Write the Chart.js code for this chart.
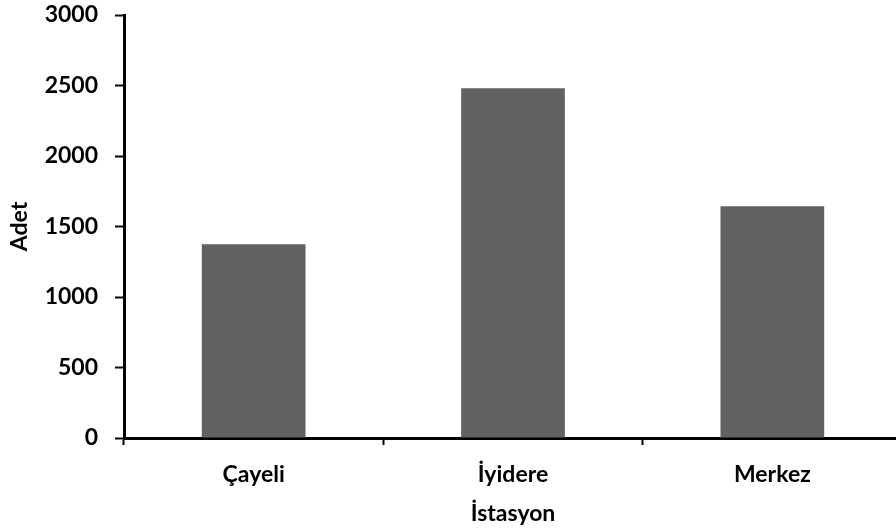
<!DOCTYPE html>
<html>
<head>
<meta charset="utf-8">
<script src="https://cdn.jsdelivr.net/npm/chart.js@4"></script>
<style>
  html, body { margin: 0; padding: 0; background: #fff; overflow: hidden; }
  #wrap { position: relative; width: 902px; height: 531px; }
</style>
</head>
<body>
<div id="wrap"><canvas id="chart"></canvas></div>
<script>
// VERİ
const istasyonlar = ["Çayeli", "İyidere", "Merkez"];
const adetler = [1375, 2480, 1643];
const yTicks = [0, 500, 1000, 1500, 2000, 2500, 3000];

const yaziTipi = "Lato, 'Open Sans', sans-serif";

const ctx = document.getElementById("chart");

new Chart(ctx, {
  type: "bar",
  data: {
    labels: istasyonlar,
    datasets: [
      {
        label: "Adet",
        data: adetler,
        backgroundColor: "#626262",
        borderWidth: 0,
        barPercentage: 0.4,
        categoryPercentage: 1,
      },
    ],
  },
  options: {
    responsive: true,
    maintainAspectRatio: false,
    animation: false,
    layout: { padding: { top: 15, right: 0, left: 0, bottom: 0 } },
    plugins: { legend: { display: false }, tooltip: { enabled: false } },
    scales: {
      x: {
        grid: {
          offset: true,
          drawOnChartArea: false,
          drawTicks: true,
          tickLength: 7,
          tickWidth: 2,
          tickColor: "#000",
        },
        border: { color: "#000", width: 3 },
        ticks: {
          color: "#000",
          padding: 16,
          font: { family: yaziTipi, size: 23, weight: "bold" },
        },
        title: {
          display: true,
          text: "İstasyon",
          color: "#000",
          padding: { top: 2 },
          font: { family: yaziTipi, size: 23, weight: "bold" },
        },
        afterFit: (s) => {
          s.height = 93;
          s.paddingLeft = 0;
          s.paddingRight = 0;
        },
      },
      y: {
        min: 0,
        max: 3000,
        afterBuildTicks: (s) => { s.ticks = yTicks.map((v) => ({ value: v })); },
        grid: {
          drawOnChartArea: false,
          tickLength: 9,
          tickWidth: 2,
          tickColor: "#000",
        },
        border: { color: "#000", width: 3 },
        ticks: {
          color: "#000",
          padding: 17,
          callback: (v) => String(v),
          font: { family: yaziTipi, size: 23, weight: "bold" },
        },
        title: {
          display: true,
          text: "Adet",
          color: "#000",
          padding: { top: 6, bottom: 0 },
          font: { family: yaziTipi, size: 23, weight: "bold" },
        },
        afterFit: (s) => {
          s.width = 124;
          s.paddingTop = 0;
          s.paddingBottom = 0;
        },
      },
    },
  },
});
</script>
</body>
</html>
